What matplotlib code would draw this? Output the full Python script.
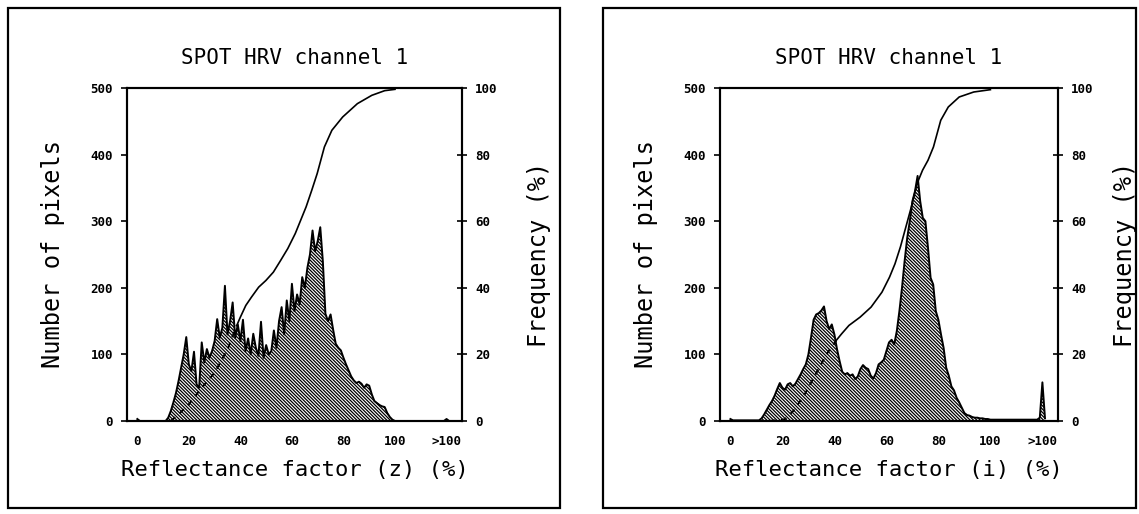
import matplotlib
matplotlib.use('Agg')
import matplotlib.pyplot as plt
from matplotlib.patches import Rectangle
import numpy as np

plt.rcParams['font.family'] = ['DejaVu Sans Mono']
plt.rcParams['hatch.linewidth'] = 0.9

# reflectance factor bins (%), 101..121 is the ">100" overflow region
refl = np.arange(0, 122)
xticks = [0, 20, 40, 60, 80, 100, 120]
xticklabels = ['0', '20', '40', '60', '80', '100', '>100']

# left panel: number of pixels per bin, reflectance factor (z)
counts_z = [3, 0, 0, 0, 0, 0, 0, 0, 0, 0, 0, 0, 5, 15, 28, 42, 60, 80, 100, 126,
            85, 75, 104, 55, 50, 118, 88, 108, 95, 105, 120, 153, 125, 140, 203, 130,
            150, 178, 125, 145, 120, 152, 105, 124, 100, 131, 110, 98, 149, 95,
            114, 100, 105, 136, 110, 150, 171, 130, 181, 150, 206, 165, 190, 175,
            216, 200, 230, 250, 286, 255, 270, 291, 240, 161, 150, 160, 137, 116,
            110, 106, 95, 85, 76, 67, 61, 57, 59, 56, 50, 55, 53, 40, 30, 27, 24,
            22, 21, 12, 6, 2, 0]
tail_z = [0] * 18 + [0, 3, 0]

# left panel: cumulative frequency (%)
cum_x_z = [13, 16, 20, 25, 30, 35, 38.6, 40, 42.1, 44.3, 47.1, 49.9, 52.8, 55.6, 58.4,
           61.3, 63.4, 65.5, 67.7, 69.8, 71.2, 72.6, 75.5, 79.7, 85.4, 91, 96, 100]
cum_f_z = [0, 2, 5, 10, 14.5, 21.5, 28.7, 31.2, 34.7, 37.2, 40.2, 42.2, 44.7, 48.2, 51.8,
           56.3, 60.3, 64.3, 69.3, 74.3, 78.3, 82.3, 87.3, 91.3, 95.3, 97.8, 99.2, 99.6]

# right panel: number of pixels per bin, reflectance factor (i)
counts_i = [3, 1, 1, 1, 1, 1, 1, 1, 1, 1, 1, 1, 4, 10, 17, 24, 30, 38, 48, 57,
            50, 47, 55, 57, 52, 56, 63, 70, 78, 85, 100, 125, 152, 160, 162, 166,
            172, 150, 138, 145, 130, 108, 90, 74, 70, 72, 68, 70, 63, 67,
            78, 84, 80, 78, 68, 64, 72, 85, 88, 92, 105, 118, 122, 115,
            135, 165, 200, 240, 275, 300, 330, 345, 368, 330, 305, 300, 260, 215,
            205, 165, 152, 130, 110, 80, 68, 52, 46, 35, 28, 20, 12, 9, 8, 6, 5,
            5, 4, 4, 3, 3, 2]
tail_i = [2] * 17 + [2, 5, 58, 4]

# right panel: cumulative frequency (%)
cum_x_i = [15, 20.9, 24.4, 28.7, 32.9, 37.1, 40.7, 42.8, 45.6, 49.9, 54.1, 58.3, 61.2,
           63.3, 65.4, 67.5, 69.6, 71.8, 73.9, 76, 78.1, 79.5, 80.9, 83.8, 88, 93.6, 100]
cum_f_i = [0, 0.5, 3.2, 8.2, 14.2, 20.2, 24.2, 26.2, 28.7, 31.2, 34.2, 38.7, 43.2,
           47.2, 52.3, 58.3, 64.3, 71.3, 75.3, 78.3, 82.3, 86.3, 90.3, 94.3, 97.3, 98.8, 99.5]

panels = [
    dict(counts=counts_z + tail_z, cx=cum_x_z, cf=cum_f_z, dash_end=38.6,
         xlabel='Reflectance factor (z) (%)', rect=[127, 88, 462, 421], frame=[8, 8, 560, 508],
         ylab_x=55, flab_x=537),
    dict(counts=counts_i + tail_i, cx=cum_x_i, cf=cum_f_i, dash_end=40.7,
         xlabel='Reflectance factor (i) (%)', rect=[720, 88, 1058, 421], frame=[603, 8, 1136, 508],
         ylab_x=648, flab_x=1123),
]

W, H = 1139, 514
fig = plt.figure(figsize=(W / 100, H / 100), dpi=100)

for p in panels:
    x0, y0, x1, y1 = p['rect']
    ax = fig.add_axes([x0 / W, 1 - y1 / H, (x1 - x0) / W, (y1 - y0) / H])

    # outer frame round each panel
    fx0, fy0, fx1, fy1 = p['frame']
    fig.patches.append(Rectangle((fx0 / W, 1 - fy1 / H), (fx1 - fx0) / W, (fy1 - fy0) / H,
                                 transform=fig.transFigure, fill=False, lw=1.6, ec='black'))

    cnt = np.array(p['counts'])
    ax.fill_between(refl, cnt, 0, facecolor='white', edgecolor='black',
                    hatch='\\' * 10, lw=0)
    ax.plot(refl, cnt, color='black', lw=1.4)

    ax.set_xlim(-4, 126)
    ax.set_ylim(0, 500)
    ax.set_xticks(xticks)
    ax.set_xticklabels(xticklabels)
    ax.set_yticks([0, 100, 200, 300, 400, 500])
    ax.tick_params(axis='x', length=0, pad=10, labelsize=9)
    ax.tick_params(axis='y', direction='out', length=4, width=1.2, pad=6, labelsize=9)
    for lbl in ax.get_xticklabels() + ax.get_yticklabels():
        lbl.set_fontweight('bold')
    for s in ax.spines.values():
        s.set_linewidth(1.5)

    w = x1 - x0
    ax.set_title('SPOT HRV channel 1', fontsize=15, pad=17)
    ax.set_xlabel(p['xlabel'], fontsize=16, labelpad=9)
    # label text hangs off its anchor by its height, so anchor ~9 px from the centre
    ax.set_ylabel('Number of pixels', fontsize=17)
    ax.yaxis.set_label_coords((p['ylab_x'] + 10 - x0) / w, 0.5)

    ax2 = ax.twinx()
    ax2.set_ylim(0, 100)
    ax2.set_yticks([0, 20, 40, 60, 80, 100])
    ax2.tick_params(axis='y', direction='inout', length=7, width=1.2, pad=6, labelsize=9)
    for lbl in ax2.get_yticklabels():
        lbl.set_fontweight('bold')
    for s in ax2.spines.values():
        s.set_linewidth(1.5)
    ax2.set_ylabel('Frequency (%)', fontsize=17)
    ax2.yaxis.set_label_coords((p['flab_x'] - 10 - x0) / w, 0.5)

    cx = np.array(p['cx'])
    cf = np.array(p['cf'])
    lo = cx <= p['dash_end']
    hi = cx >= p['dash_end']
    ax2.plot(cx[lo], cf[lo], color='black', lw=1.4, ls=(0, (3, 3)))
    ax2.plot(cx[hi], cf[hi], color='black', lw=1.2)

fig.savefig('out.png', dpi=100)
